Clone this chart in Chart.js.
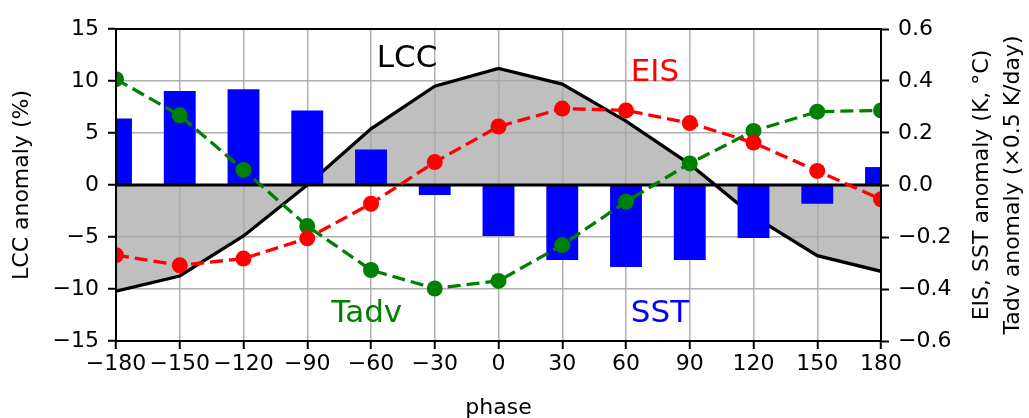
<!DOCTYPE html>
<html>
<head>
<meta charset="utf-8">
<script src="https://cdn.jsdelivr.net/npm/chart.js@4.4.1/dist/chart.umd.min.js"></script>
<style>
  html, body { margin: 0; padding: 0; background: #fff; }
  #wrap { width: 1029px; height: 418px; }
</style>
</head>
<body>
<div id="wrap"><canvas id="cv" width="1029" height="418"></canvas></div>
<script>
// composite phase, 30 degree bins
const phase = [-180, -150, -120, -90, -60, -30, 0, 30, 60, 90, 120, 150, 180];
const lcc  = [-10.2, -8.75, -4.9, 0.0, 5.4, 9.5, 11.2, 9.7, 6.15, 2.0, -3.0, -6.8, -8.3];
const sst  = [0.256, 0.362, 0.368, 0.287, 0.137, -0.038, -0.196, -0.288, -0.315, -0.288, -0.204, -0.072, 0.069];
const eis  = [-0.270, -0.309, -0.283, -0.205, -0.072, 0.088, 0.225, 0.294, 0.287, 0.238, 0.163, 0.054, -0.055];
const tadv = [0.407, 0.268, 0.058, -0.158, -0.327, -0.398, -0.369, -0.231, -0.064, 0.083, 0.208, 0.282, 0.287];

const phaseTicks = [-180, -150, -120, -90, -60, -30, 0, 30, 60, 90, 120, 150, 180];
const lccTicks = [-15, -10, -5, 0, 5, 10, 15];
const rightTicks = [-0.6, -0.4, -0.2, 0.0, 0.2, 0.4, 0.6];

// in-plot series names: [text, phase, lcc value, colour]
const seriesNames = [
  ['LCC', -43, 12.4, '#000000'],
  ['EIS', 73.6, 11.1, '#ff0000'],
  ['Tadv', -62, -12.05, '#008000'],
  ['SST', 76, -12.05, '#0000ff']
];

const FONT = 'DejaVu Sans';
const pts = arr => phase.map((p, i) => ({ x: p, y: arr[i] }));
const minus = s => String(s).replace('-', '\u2212');

const decor = {
  id: 'decor',
  afterDatasetsDraw(chart) {
    const { ctx, chartArea: a, scales } = chart;
    ctx.save();
    // top spine
    ctx.strokeStyle = '#000';
    ctx.lineWidth = 2;
    ctx.beginPath();
    ctx.moveTo(a.left - 1, a.top);
    ctx.lineTo(a.right + 1, a.top);
    ctx.stroke();
    // series names
    const size = 31;
    ctx.font = size + 'px "' + FONT + '"';
    ctx.textAlign = 'center';
    ctx.textBaseline = 'alphabetic';
    seriesNames.forEach(([t, px, v, c]) => {
      ctx.fillStyle = c;
      ctx.fillText(t, scales.x.getPixelForValue(px), scales.y.getPixelForValue(v) + 0.365 * size);
    });
    ctx.restore();
  },
  afterDraw(chart) {
    const { ctx, chartArea: a } = chart;
    const cy = (a.top + a.bottom) / 2;
    ctx.save();
    ctx.font = '22px "' + FONT + '"';
    ctx.fillStyle = '#000';
    ctx.textAlign = 'center';
    ctx.textBaseline = 'alphabetic';
    [['EIS, SST anomaly (K, \u00b0C)', 988], ['Tadv anomaly (\u00d70.5 K/day)', 1019]].forEach(([t, x]) => {
      ctx.save();
      ctx.translate(x, cy);
      ctx.rotate(-Math.PI / 2);
      ctx.fillText(t, 0, 0);
      ctx.restore();
    });
    ctx.restore();
  }
};

const tickFont = { family: FONT, size: 22 };
const gridCol = '#b0b0b0';

new Chart(document.getElementById('cv'), {
  type: 'bar',
  data: {
    datasets: [
      {
        type: 'line', label: 'LCC', data: pts(lcc), yAxisID: 'y',
        borderColor: '#000', borderWidth: 3.3, backgroundColor: 'rgba(167,167,167,0.73)',
        fill: 'origin', pointRadius: 0, tension: 0, order: 5, clip: 0
      },
      {
        type: 'bar', label: 'SST', data: pts(sst), yAxisID: 'y2',
        backgroundColor: '#0000ff', barPercentage: 0.5, categoryPercentage: 1,
        order: 4, clip: 0
      },
      {
        type: 'line', label: 'zero', data: [{ x: -180, y: 0 }, { x: 180, y: 0 }], yAxisID: 'y',
        borderColor: '#000', borderWidth: 3, pointRadius: 0, fill: false, order: 3, clip: 0
      },
      {
        type: 'line', label: 'Tadv', data: pts(tadv), yAxisID: 'y2',
        borderColor: '#008000', borderWidth: 3.3, borderDash: [13, 6], fill: false,
        pointRadius: 8, pointBackgroundColor: '#008000', pointBorderWidth: 0,
        tension: 0, order: 2, clip: 0
      },
      {
        type: 'line', label: 'EIS', data: pts(eis), yAxisID: 'y2',
        borderColor: '#ff0000', borderWidth: 3.3, borderDash: [13, 6], fill: false,
        pointRadius: 8, pointBackgroundColor: '#ff0000', pointBorderWidth: 0,
        tension: 0, order: 1, clip: 0
      }
    ]
  },
  options: {
    responsive: false,
    animation: false,
    layout: { padding: { top: 29, left: 0, right: 0, bottom: 0 } },
    plugins: { legend: { display: false }, tooltip: { enabled: false } },
    scales: {
      x: {
        type: 'linear', min: -180, max: 180, offset: false,
        afterBuildTicks: s => { s.ticks = phaseTicks.map(v => ({ value: v })); },
        afterFit: s => { s.height = 77; },
        ticks: { autoSkip: false, maxRotation: 0, minRotation: 0, color: '#000', font: tickFont, padding: 2, callback: v => minus(v) },
        grid: { color: gridCol, lineWidth: 1.5, tickColor: '#000', tickLength: 8, tickWidth: 2, offset: false },
        border: { color: '#000', width: 2, z: 1 },
        title: { display: true, text: 'phase', color: '#000', font: tickFont, padding: { top: 0, bottom: -3 } }
      },
      y: {
        type: 'linear', position: 'left', min: -15, max: 15,
        afterBuildTicks: s => { s.ticks = lccTicks.map(v => ({ value: v })); },
        afterFit: s => { s.width = 116; },
        ticks: { color: '#000', font: tickFont, padding: 9, callback: v => minus(v) },
        grid: { color: gridCol, lineWidth: 1.5, tickColor: '#000', tickLength: 8, tickWidth: 2 },
        border: { color: '#000', width: 2, z: 1 },
        title: { display: true, text: 'LCC anomaly (%)', color: '#000', font: tickFont, padding: { top: 9, bottom: 0 } }
      },
      y2: {
        type: 'linear', position: 'right', min: -0.6, max: 0.6,
        afterBuildTicks: s => { s.ticks = rightTicks.map(v => ({ value: v })); },
        afterFit: s => { s.width = 148; },
        ticks: { color: '#000', font: tickFont, padding: 9, callback: v => minus(Number(v).toFixed(1)) },
        grid: { drawOnChartArea: false, tickColor: '#000', tickLength: 8, tickWidth: 2 },
        border: { color: '#000', width: 2, z: 1 }
      }
    }
  },
  plugins: [decor]
});
</script>
</body>
</html>
